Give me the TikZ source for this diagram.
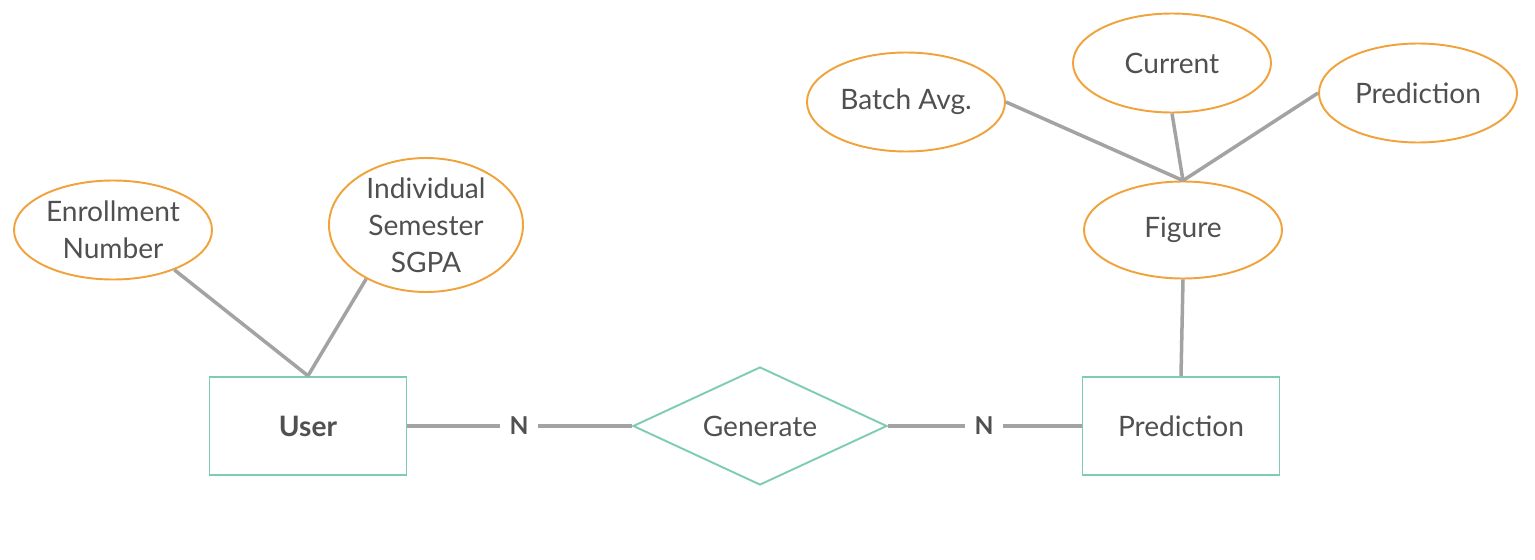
\documentclass[tikz,border=0pt]{standalone}
\usepackage{fontspec}
\setmainfont{Lato}
\usepackage{xcolor}
\usepackage{tikz}
\usetikzlibrary{positioning,shapes.geometric}
\definecolor{attrorange}{HTML}{F0A23B}
\definecolor{entityteal}{HTML}{7FCDB0}
\definecolor{linkgray}{HTML}{A3A3A3}
\definecolor{textgray}{HTML}{505050}

\begin{document}
\begin{tikzpicture}[every node/.style={font=\fontsize{16}{21}\selectfont, text=textgray, align=center},
    attr/.style={ellipse, draw=attrorange, line width=1.1pt, minimum width=3.96cm, minimum height=1.98cm, inner sep=0pt},
    entity/.style={rectangle, draw=entityteal, line width=1.1pt, minimum width=3.94cm, minimum height=1.97cm},
    relation/.style={diamond, draw=entityteal, line width=1.1pt, minimum width=5.08cm, minimum height=2.36cm, inner sep=0pt},
    card/.style={font=\fontsize{14}{16}\selectfont\bfseries, minimum width=0.76cm, inner sep=0pt},
    link/.style={linkgray, line width=2pt}]
    % Canvas
    \useasboundingbox (0,0) rectangle (30.7,-11.2);
    
    % Entities and relation
    \node[entity] (user) at (6.16,-8.52) {\textbf{User}};
    \node[relation] (generate) at (15.2,-8.52) {\makebox[0pt]{Generate}};
    \node[entity] (prediction) at (23.62,-8.52) {Prediction};
    \node[card] (n1) at (10.38,-8.52) {N};
    \node[card] (n2) at (19.68,-8.52) {N};
    
    % Attributes
    \node[attr] (enroll) at (2.26,-4.6) {Enrollment\\Number};
    \node[attr, minimum width=3.88cm, minimum height=2.52cm] (sgpa) at (8.52,-4.5) {Individual\\Semester\\SGPA};
    \node[attr, minimum height=1.94cm] (figure) at (23.66,-4.6) {Figure};
    \node[attr] (batch) at (18.12,-2.04) {Batch Avg.};
    \node[attr] (current) at (23.44,-1.26) {Current};
    \node[attr] (predattr) at (28.36,-1.86) {Prediction};
    
    % Links
    \draw[link] (enroll.327) -- (user.north);
    \draw[link] (sgpa.222) -- (user.north);
    \draw[link] (user) -- (n1) -- (generate);
    \draw[link] (generate) -- (n2) -- (prediction);
    \draw[link] (figure.south) -- (prediction.north);
    \draw[link] (batch.east) -- (figure.north);
    \draw[link] (current.south) -- (figure.north);
    \draw[link] (predattr.west) -- (figure.north);
\end{tikzpicture}
\end{document}
